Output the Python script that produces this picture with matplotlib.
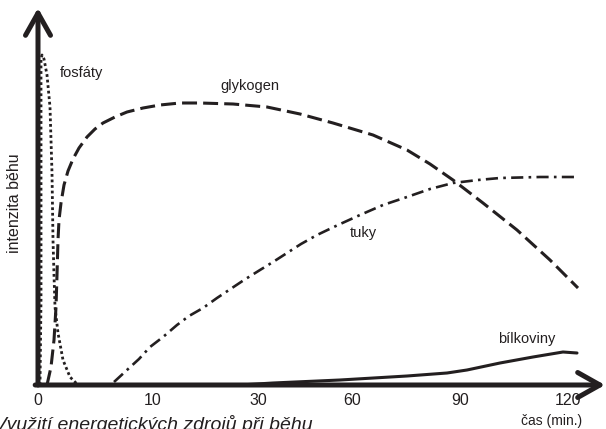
import matplotlib
matplotlib.use("Agg")
import matplotlib.pyplot as plt

plt.rcParams["font.family"] = ["Liberation Sans", "DejaVu Sans"]

INK = "#231f20"

# x positions along the time axis (schematic, not linear in minutes), y = intensity
tick_pos = [0, 115, 220, 314, 422, 530]
tick_labels = ["0", "10", "30", "60", "90", "120"]

fosfaty_x = [2, 3, 3, 3, 4, 6, 9, 12, 13, 14, 15, 16, 17, 20, 25, 32, 40]
fosfaty_y = [0, 85, 250, 325, 330, 326, 310, 278, 245, 212, 145, 110, 78, 52, 25, 8, 0]

glykogen_x = [9, 13, 16, 18, 19, 20, 21, 23, 26, 30, 35, 41, 49, 57, 65, 77, 89, 105, 122,
              142, 162, 195, 229, 262, 295, 335, 369, 392, 415, 445, 479, 512, 540]
glykogen_y = [0, 18, 45, 78, 110, 145, 165, 182, 200, 214, 226, 237, 248, 256, 262, 268, 273,
              277, 280, 282, 282, 281, 278, 271, 262, 250, 235, 221, 205, 182, 155, 125, 97]

tuky_x = [76, 89, 101, 112, 125, 139, 151, 165, 179, 194, 206, 222, 235, 249, 263, 279,
          300, 322, 345, 369, 392, 415, 440, 462, 502, 539]
tuky_y = [3, 15, 26, 38, 48, 60, 69, 77, 87, 97, 105, 115, 123, 132, 141, 150,
          160, 170, 180, 188, 196, 202, 205, 207, 208, 208]

bilkoviny_x = [202, 235, 302, 369, 409, 429, 462, 495, 525, 539]
bilkoviny_y = [0, 2, 5, 9, 12, 15, 22, 28, 33, 32]

fig = plt.figure(figsize=(6.06, 4.29), dpi=100)
ax = fig.add_axes([38 / 606, 44 / 429, 567 / 606, 377 / 429])
ax.set_xlim(0, 567)
ax.set_ylim(0, 377)
for s in ax.spines.values():
    s.set_visible(False)

ax.plot(fosfaty_x, fosfaty_y, color=INK, lw=2.0, ls=(0, (1, 1)))
ax.plot(glykogen_x, glykogen_y, color=INK, lw=2.2, ls=(0, (4.9, 2.0)))
ax.plot(tuky_x, tuky_y, color=INK, lw=1.9, ls=(0, (4.6, 2.0, 1.0, 2.0)))
ax.plot(bilkoviny_x, bilkoviny_y, color=INK, lw=2.2, solid_capstyle="round")

# axis arrows
arrow = dict(arrowstyle="->,head_length=0.8,head_width=0.45", lw=3.6, color=INK,
             shrinkA=0, shrinkB=0, mutation_scale=20)
ax.annotate("", xy=(0, 1), xytext=(0, 0), xycoords="axes fraction", arrowprops=arrow)
ax.annotate("", xy=(1, 0), xytext=(-0.005, 0), xycoords="axes fraction", arrowprops=arrow)

ax.set_xticks(tick_pos)
ax.set_xticklabels(tick_labels, fontsize=11.5, color=INK)
ax.tick_params(axis="x", length=0, pad=6)
ax.set_yticks([])

# curve labels
ax.text(22, 312, "fosfáty", fontsize=10.5, color=INK, va="center")
ax.text(182, 299, "glykogen", fontsize=10.5, color=INK, va="center")
ax.text(312, 152, "tuky", fontsize=10.5, color=INK, va="center")
ax.text(489, 46, "bílkoviny", fontsize=10.5, color=INK, va="center", ha="center")

fig.text(15 / 606, 1 - 203 / 429, "intenzita běhu", rotation=90, fontsize=11.5,
         color=INK, ha="center", va="center")
fig.text(552 / 606, 1 - 421 / 429, "čas (min.)", fontsize=10, color=INK,
         ha="center", va="center")
fig.text(-6 / 606, -1 / 429, "Využití energetických zdrojů při běhu", fontsize=14,
         style="italic", color=INK, ha="left", va="baseline")

fig.savefig("out.png", dpi=100)
